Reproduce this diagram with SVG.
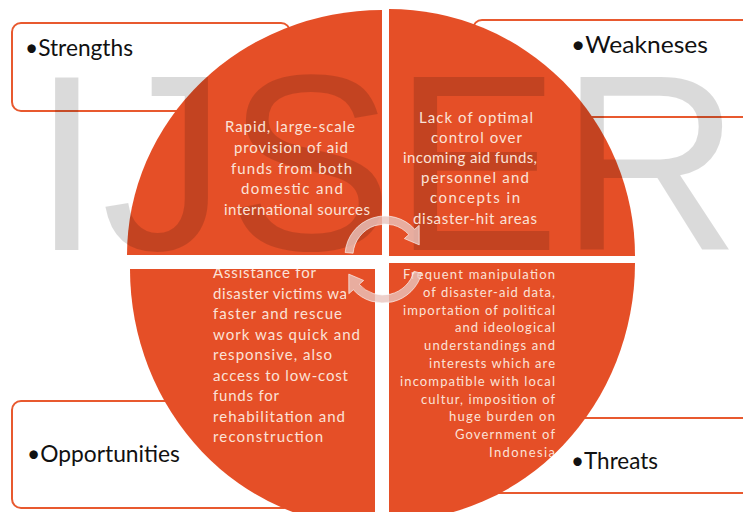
<svg xmlns="http://www.w3.org/2000/svg" width="743" height="512" viewBox="0 0 743 512">
<style>
.box{fill:#fff;stroke:#e8592f;stroke-width:2}
.quad{fill:#e54f27}
.lbl{font-family:Lato,"Liberation Sans",sans-serif;font-size:24px;fill:#111}
.qt{font-family:Lato,"Liberation Sans",sans-serif;font-size:15px;fill:#fbe2d7}
.qs{font-family:Lato,"Liberation Sans",sans-serif;font-size:13px;fill:#fbe2d7;text-anchor:end}
.wm{font-family:"Liberation Sans",Arial,sans-serif;font-size:250px;fill:#000;fill-opacity:0.145}
.arr{fill:#e9c4be;fill-opacity:0.8;stroke:#fff;stroke-opacity:0.6;stroke-width:1}
</style>
<defs>
<clipPath id="cTL"><path d="M382,255 L127,255 A255,245 0 0 1 382,10 Z"/></clipPath>
<clipPath id="cTR"><path d="M389,256 L389,9 A246,247 0 0 1 635,256 Z"/></clipPath>
<clipPath id="cBL"><path d="M375,269 L375,527 A245,258 0 0 1 130,269 Z"/></clipPath>
<clipPath id="cBR"><path d="M389,263 L635,263 A246,258 0 0 1 389,521 Z"/></clipPath>
<clipPath id="cWas"><rect x="130" y="280" width="216.5" height="25"/></clipPath>
</defs>

<g id="box-strengths"><rect class="box" x="12" y="23" width="278" height="88" rx="9"/></g>
<g id="box-weaknesses"><rect class="box" x="473" y="20" width="285" height="97" rx="9"/></g>
<g id="box-opportunities"><rect class="box" x="12" y="401" width="281" height="107" rx="9"/></g>
<g id="box-threats"><rect class="box" x="470" y="418" width="288" height="75" rx="9"/></g>

<g id="quadrants">
<path id="q-tl" class="quad" d="M382,255 L127,255 A255,245 0 0 1 382,10 Z"/>
<path id="q-tr" class="quad" d="M389,256 L389,9 A246,247 0 0 1 635,256 Z"/>
<path id="q-bl" class="quad" d="M375,269 L375,527 A245,258 0 0 1 130,269 Z"/>
<path id="q-br" class="quad" d="M389,263 L635,263 A246,258 0 0 1 389,521 Z"/>
</g>

<text class="wm" x="32" y="250">IJSER</text>

<g id="node-strengths">
<text class="lbl" x="25" y="56" textLength="108" lengthAdjust="spacingAndGlyphs">•Strengths</text>
<g clip-path="url(#cTL)">
<text class="qt" x="225" y="132" textLength="130">Rapid, large-scale</text>
<text class="qt" x="234" y="153" textLength="114">provision of aid</text>
<text class="qt" x="231" y="173.5" textLength="121">funds from both</text>
<text class="qt" x="241" y="194" textLength="102">domestic and</text>
<text class="qt" x="224" y="215" textLength="146">international sources</text>
</g>
</g>

<g id="node-weaknesses">
<text class="lbl" x="571" y="53" textLength="137" lengthAdjust="spacingAndGlyphs">•Weakneses</text>
<g clip-path="url(#cTR)">
<text class="qt" x="419" y="122.5" textLength="114">Lack of optimal</text>
<text class="qt" x="431" y="142.7" textLength="91">control over</text>
<text class="qt" x="403" y="162.9" textLength="134">incoming aid funds,</text>
<text class="qt" x="421" y="183.1" textLength="108">personnel and</text>
<text class="qt" x="430" y="203.3" textLength="90">concepts in</text>
<text class="qt" x="413" y="223.5" textLength="124">disaster-hit areas</text>
</g>
</g>

<g id="node-opportunities">
<text class="lbl" x="27" y="462" textLength="153" lengthAdjust="spacingAndGlyphs">•Opportunities</text>
<g clip-path="url(#cBL)">
<text class="qt" x="213" y="278" textLength="103">Assistance for</text>
<g clip-path="url(#cWas)"><text class="qt" x="213" y="298.5" textLength="141">disaster victims was</text></g>
<text class="qt" x="213" y="319" textLength="129">faster and rescue</text>
<text class="qt" x="213" y="339.5" textLength="147">work was quick and</text>
<text class="qt" x="213" y="360" textLength="119">responsive, also</text>
<text class="qt" x="213" y="380.5" textLength="135">access to low-cost</text>
<text class="qt" x="213" y="401" textLength="66">funds for</text>
<text class="qt" x="213" y="421.5" textLength="132">rehabilitation and</text>
<text class="qt" x="213" y="442" textLength="110">reconstruction</text>
</g>
</g>

<g id="node-threats">
<text class="lbl" x="571" y="469" textLength="87" lengthAdjust="spacingAndGlyphs">•Threats</text>
<g clip-path="url(#cBR)">
<text class="qs" x="555" y="279" textLength="152">Frequent manipulation</text>
<text class="qs" x="555" y="296.8" textLength="132">of disaster-aid data,</text>
<text class="qs" x="555" y="314.6" textLength="152">importation of political</text>
<text class="qs" x="555" y="332.4" textLength="100">and ideological</text>
<text class="qs" x="555" y="350.2" textLength="131">understandings and</text>
<text class="qs" x="555" y="368" textLength="126">interests which are</text>
<text class="qs" x="555" y="385.8" textLength="155">incompatible with local</text>
<text class="qs" x="555" y="403.6" textLength="134">cultur, imposition of</text>
<text class="qs" x="555" y="421.4" textLength="106">huge burden on</text>
<text class="qs" x="555" y="439.2" textLength="100">Government of</text>
<text class="qs" x="555" y="457" textLength="66">Indonesia</text>
</g>
</g>

<g id="connectors">
<path class="arr" d="M345.15,252.51 A40,40 0 0 1 414.72,229.24 L419.18,225.22 L419.24,244.88 L404.32,238.6 L408.78,234.59 A32,32 0 0 0 353.12,253.21 Z"/>
<path class="arr" d="M421.64,273.35 A40,40 0 0 1 353.28,289.76 L348.82,293.78 L348.76,274.12 L363.68,280.4 L359.22,284.41 A32,32 0 0 0 413.91,271.28 Z"/>
</g>
</svg>
